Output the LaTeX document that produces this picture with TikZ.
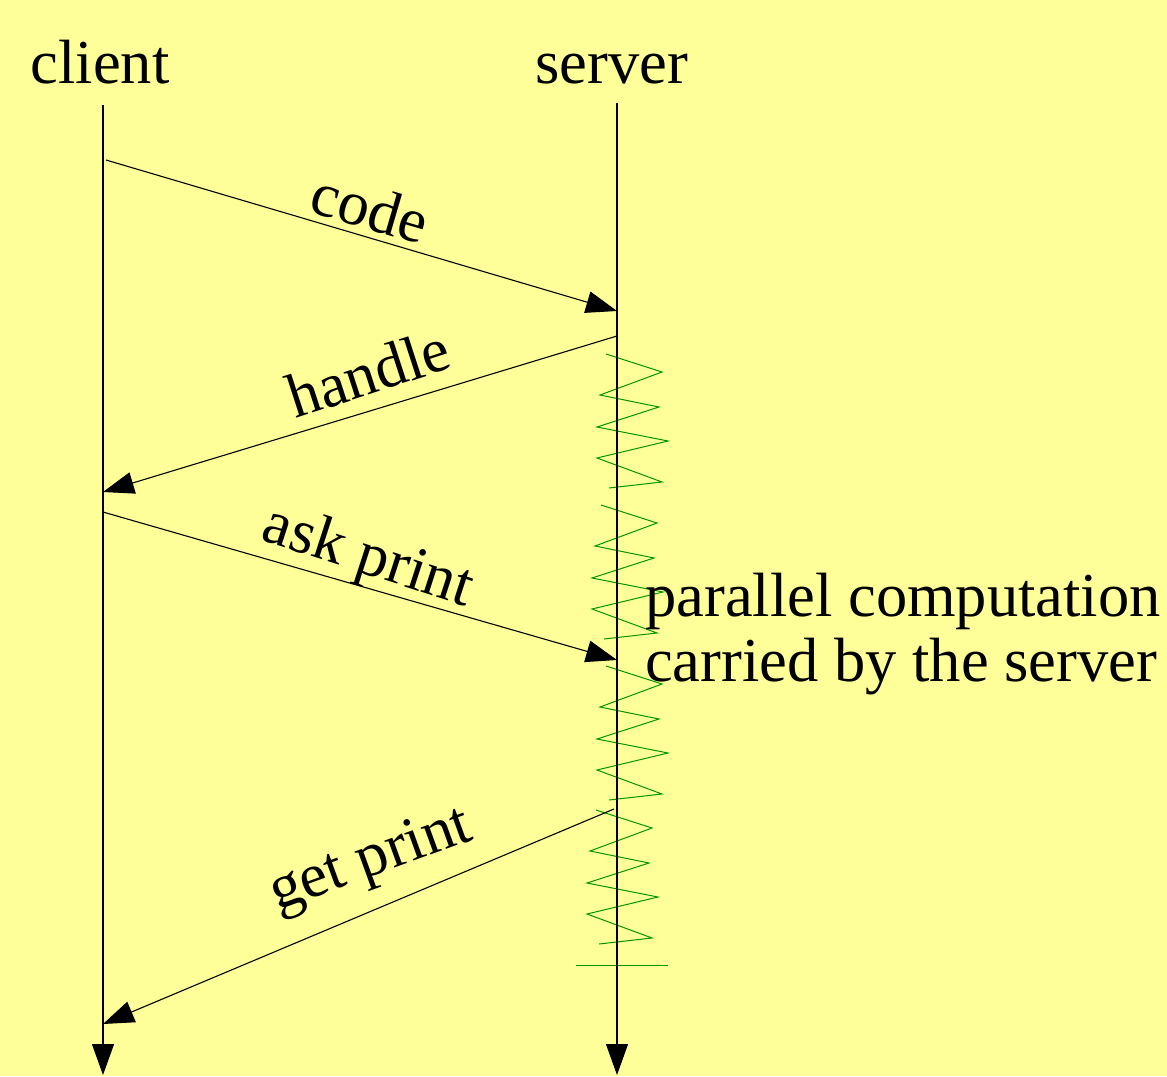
\documentclass[tikz,border=0pt]{standalone}
\usepackage{fontspec}
\setmainfont{Liberation Serif}
\usetikzlibrary{arrows.meta}
\definecolor{bg}{HTML}{FFFF99}
\definecolor{zig}{RGB}{0,150,0}
\begin{document}
\begin{tikzpicture}[x=1pt,y=-1pt,
  lbl/.style={font=\fontsize{62.5}{66}\selectfont, inner sep=0pt, anchor=base},
  life/.style={line width=1.1pt, -{Triangle[length=31pt,width=22pt]}},
  msg/.style={line width=1.1pt, -{Triangle[length=31pt,width=22pt]}},
  zz/.style={zig, line width=1pt, line join=miter}]
\fill[bg] (0,0) rectangle (1167,1076);
\useasboundingbox (0,0) rectangle (1167,1076);
% headers
\node[lbl] (client) at (100,83) {client};
\node[lbl] (server) at (612,83) {server};
% lifeline coordinates
\coordinate (ctop) at (103,105);
\coordinate (cbot) at (103,1075);
\coordinate (stop) at (617,103);
\coordinate (sbot) at (617,1075);
% message endpoints
\coordinate (c1) at (106,160);
\coordinate (s1) at (617,311);
\coordinate (s2) at (617,336);
\coordinate (c2) at (103,492);
\coordinate (c3) at (103,512);
\coordinate (s3) at (617,660);
\coordinate (s4) at (614,809);
\coordinate (c4) at (103,1024);
% zigzag (parallel computation)
\foreach \dx/\y in {0/354, -5/505, 0/666, -10/810}{
  \draw[zz, shift={(\dx,\y)}] (606,0) -- (662,18) -- (600,41) -- (659,53) -- (597,73)
     -- (668,87) -- (597,104) -- (662,128) -- (609,134);
}
\coordinate (zl) at (576,965);
\coordinate (zr) at (668,965);
\draw[zz] (zl) -- (zr);
% lifelines
\draw[life] (ctop) -- (cbot);
\draw[life] (stop) -- (sbot);
% messages
\draw[msg] (c1) -- (s1);
\draw[msg] (s2) -- (c2);
\draw[msg] (c3) -- (s3);
\draw[msg] (s4) -- (c4);
% message labels
\node[lbl, rotate=-16.3] (lcode) at (364,228) {code};
\node[lbl, rotate=18] (lhandle) at (375,393) {handle};
\node[lbl, rotate=-18] (lask) at (363,573) {ask print};
\node[lbl, rotate=20] (lget) at (376,875) {get print};
% note
\node[lbl, anchor=base west] (pc1) at (645,616) {parallel computation};
\node[lbl, anchor=base west] (pc2) at (645,681) {carried by the server};
\end{tikzpicture}
\end{document}
